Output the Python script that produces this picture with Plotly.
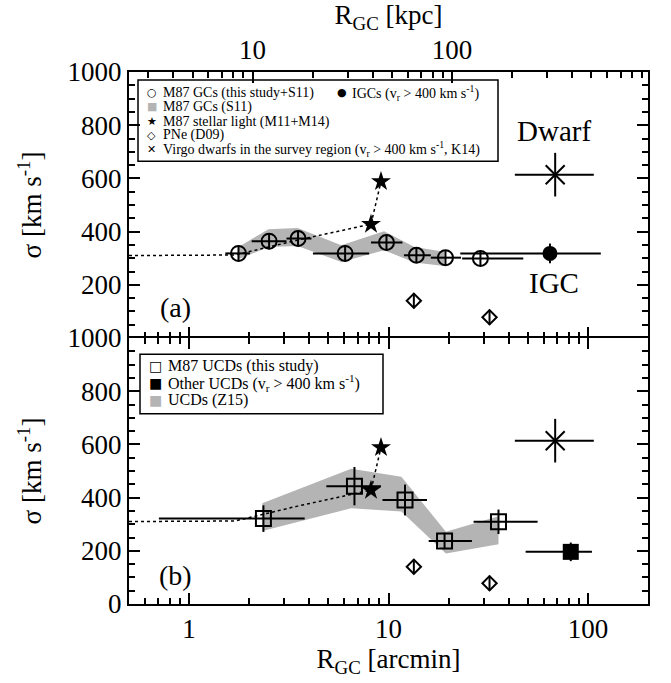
import numpy as np
import plotly.graph_objects as go

# ---------------- data ----------------
# M87 globular clusters (this study + S11), panel (a)
gc_r = [1.77, 2.52, 3.52, 6.06, 9.77, 13.8, 19.3, 28.9]
gc_sig = [318, 364, 374, 318, 359, 311, 302, 299]
gc_r_lo = [1.52, 2.06, 3.08, 4.18, 8.17, 11.95, 16.3, 23.4]
gc_r_hi = [2.02, 3.08, 4.11, 8.0, 11.74, 16.3, 23.1, 47.4]
gc_sig_err = [30, 30, 30, 30, 30, 28, 28, 28]

# M87 GCs (S11) band
s11_r = [1.77, 2.5, 3.5, 5.8, 9.5, 13.5, 19.0]
s11_lo = [296, 342, 346, 286, 330, 284, 271]
s11_hi = [342, 409, 414, 349, 401, 342, 324]

# intracluster GCs
igc_r = [64.5]
igc_sig = [318]
igc_r_lo = [22.9]
igc_r_hi = [116.0]
igc_sig_err = [37]

# M87 UCDs (this study), panel (b)
ucd_r = [2.36, 6.75, 12.1, 19.1, 35.6]
ucd_sig = [321, 443, 391, 237, 309]
ucd_r_lo = [0.706, 4.88, 9.33, 15.9, 26.7]
ucd_r_hi = [3.80, 9.17, 15.6, 26.2, 55.9]
ucd_sig_err = [50, 72, 58, 31, 46]

# other UCDs
oucd_r = [82.0]
oucd_sig = [196]
oucd_r_lo = [48.7]
oucd_r_hi = [104.7]
oucd_sig_err = [35]

# UCDs (Z15) band
z15_r = [2.33, 6.5, 11.6, 19.4, 35.6]
z15_lo = [274, 360, 348, 190, 225]
z15_hi = [379, 508, 478, 272, 330]

# M87 stellar light (M11 profile + M14 points)
prof_r = [0.5, 1.7, 3.5, 8.17, 9.17]
prof_sig = [310, 312, 368, 428, 588]
star_r = [8.17, 9.17]
star_sig = [428, 588]

# planetary nebulae (D09)
pne_r = [13.4, 32.1]
pne_sig = [140, 78]
pne_sig_err = [28, 28]

# Virgo dwarfs (K14)
dw_r = [68.5]
dw_sig = [614]
dw_r_lo = [43.0]
dw_r_hi = [107.0]
dw_sig_err = [82]

KPC_PER_ARCMIN = 4.8
X_RANGE = [0.5, 200]

# x tick values (arcmin and kpc)
x_major = [1, 10, 100]
x_minor = [0.6, 0.7, 0.8, 0.9, 2, 3, 4, 5, 6, 7, 8, 9,
           20, 30, 40, 50, 60, 70, 80, 90, 200]
kpc_major = [10, 100]
kpc_minor = [3, 4, 5, 6, 7, 8, 9, 20, 30, 40, 50, 60, 70, 80, 90,
             200, 300, 400, 500, 600, 700, 800, 900]
y_major_a = [200, 400, 600, 800, 1000]
y_major_b = [0, 200, 400, 600, 800, 1000]
y_minor = [v for v in range(50, 1000, 50) if v % 200 != 0]

# ---------------- figure ----------------
W, H = 671, 683
L, R, T, B = 129, 648, 67, 604
FONT = "Liberation Serif"
GRAY = "#b4b4b4"


def px(xp):
    return (xp - L) / (R - L)


def py(yp):
    return (B - yp) / (B - T)


def xerr(x, lo, hi):
    return dict(type="data", symmetric=False,
                array=[h - v for v, h in zip(x, hi)],
                arrayminus=[v - l for v, l in zip(x, lo)],
                color="black", thickness=2, width=0)


def yerr(e):
    return dict(type="data", array=e, color="black", thickness=2, width=0)


def band(r, lo, hi, xa, ya):
    return go.Scatter(x=list(r) + list(r)[::-1], y=list(hi) + list(lo)[::-1],
                      fill="toself", fillcolor=GRAY, mode="lines",
                      line=dict(width=0, color=GRAY), xaxis=xa, yaxis=ya,
                      hoverinfo="skip", showlegend=False)


fig = go.Figure()

# ---- panel (a): globular clusters ----
xa, ya = "x2", "y2"
fig.add_trace(band(s11_r, s11_lo, s11_hi, xa, ya))
fig.add_trace(go.Scatter(x=prof_r, y=prof_sig, mode="lines",
                         line=dict(color="black", width=1.5, dash="dot"),
                         xaxis=xa, yaxis=ya, showlegend=False))
fig.add_trace(go.Scatter(x=star_r, y=star_sig, mode="markers",
                         marker=dict(symbol="star", size=15, color="black"),
                         xaxis=xa, yaxis=ya, showlegend=False))
fig.add_trace(go.Scatter(x=gc_r, y=gc_sig, mode="markers",
                         error_x=xerr(gc_r, gc_r_lo, gc_r_hi),
                         error_y=yerr(gc_sig_err),
                         marker=dict(symbol="circle-open", size=15, color="black",
                                     line=dict(width=2)),
                         xaxis=xa, yaxis=ya, showlegend=False))
fig.add_trace(go.Scatter(x=igc_r, y=igc_sig, mode="markers",
                         error_x=xerr(igc_r, igc_r_lo, igc_r_hi),
                         error_y=yerr(igc_sig_err),
                         marker=dict(symbol="circle", size=15, color="black"),
                         xaxis=xa, yaxis=ya, showlegend=False))
fig.add_trace(go.Scatter(x=pne_r, y=pne_sig, mode="markers",
                         error_y=yerr(pne_sig_err),
                         marker=dict(symbol="diamond-open", size=11, color="black",
                                     line=dict(width=2)),
                         xaxis=xa, yaxis=ya, showlegend=False))
fig.add_trace(go.Scatter(x=dw_r, y=dw_sig, mode="markers",
                         error_x=xerr(dw_r, dw_r_lo, dw_r_hi),
                         error_y=yerr(dw_sig_err),
                         marker=dict(symbol="x-thin-open", size=19, color="black",
                                     line=dict(width=2)),
                         xaxis=xa, yaxis=ya, showlegend=False))
# top axis in kpc
fig.add_trace(go.Scatter(x=[], y=[], xaxis="x3", yaxis="y2", showlegend=False))

# ---- panel (b): UCDs ----
xb, yb = "x", "y"
fig.add_trace(band(z15_r, z15_lo, z15_hi, xb, yb))
fig.add_trace(go.Scatter(x=prof_r, y=prof_sig, mode="lines",
                         line=dict(color="black", width=1.5, dash="dot"),
                         xaxis=xb, yaxis=yb, showlegend=False))
fig.add_trace(go.Scatter(x=star_r, y=star_sig, mode="markers",
                         marker=dict(symbol="star", size=15, color="black"),
                         xaxis=xb, yaxis=yb, showlegend=False))
fig.add_trace(go.Scatter(x=ucd_r, y=ucd_sig, mode="markers",
                         error_x=xerr(ucd_r, ucd_r_lo, ucd_r_hi),
                         error_y=yerr(ucd_sig_err),
                         marker=dict(symbol="square-open", size=15, color="black",
                                     line=dict(width=2)),
                         xaxis=xb, yaxis=yb, showlegend=False))
fig.add_trace(go.Scatter(x=oucd_r, y=oucd_sig, mode="markers",
                         error_x=xerr(oucd_r, oucd_r_lo, oucd_r_hi),
                         error_y=yerr(oucd_sig_err),
                         marker=dict(symbol="square", size=16, color="black"),
                         xaxis=xb, yaxis=yb, showlegend=False))
fig.add_trace(go.Scatter(x=pne_r, y=pne_sig, mode="markers",
                         error_y=yerr(pne_sig_err),
                         marker=dict(symbol="diamond-open", size=11, color="black",
                                     line=dict(width=2)),
                         xaxis=xb, yaxis=yb, showlegend=False))
fig.add_trace(go.Scatter(x=dw_r, y=dw_sig, mode="markers",
                         error_x=xerr(dw_r, dw_r_lo, dw_r_hi),
                         error_y=yerr(dw_sig_err),
                         marker=dict(symbol="x-thin-open", size=19, color="black",
                                     line=dict(width=2)),
                         xaxis=xb, yaxis=yb, showlegend=False))

# ---------------- axes ----------------
tickfont = dict(family=FONT, size=27, color="black")
common_x = dict(type="log", range=[np.log10(X_RANGE[0]), np.log10(X_RANGE[1])],
                linecolor="black", linewidth=2,
                ticks="inside", ticklen=11, tickwidth=1.8, tickcolor="black",
                tickmode="array", tickvals=x_major,
                minor=dict(ticks="inside", ticklen=6, tickwidth=1.5,
                           tickcolor="black", tickvals=x_minor, showgrid=False),
                showgrid=False, zeroline=False, tickfont=tickfont)
common_y = dict(range=[0, 1000], showline=True, linecolor="black", linewidth=2,
                ticks="inside", ticklen=11, tickwidth=1.8, tickcolor="black",
                mirror="ticks", tickmode="array",
                minor=dict(ticks="inside", ticklen=6, tickwidth=1.5,
                           tickcolor="black", tickvals=y_minor, showgrid=False),
                showgrid=False, zeroline=False, tickfont=tickfont,
                title=dict(text="σ [km s<sup>-1</sup>]",
                           font=dict(family=FONT, size=27, color="black"),
                           standoff=18))

fig.update_layout(
    width=W, height=H,
    margin=dict(l=L, r=W - R, t=T, b=H - B),
    paper_bgcolor="white", plot_bgcolor="white",
    font=dict(family=FONT, color="black"),
    xaxis=dict(**common_x, showline=True, domain=[0, 1], anchor="y",
               mirror="ticks",
               title=dict(text="R<sub>GC</sub> [arcmin]",
                          font=dict(family=FONT, size=27, color="black"),
                          standoff=6)),
    yaxis=dict(**common_y, domain=[0, 0.5], anchor="x", tickvals=y_major_b),
    xaxis2=dict(**common_x, showline=False, domain=[0, 1], anchor="y2",
                matches="x", showticklabels=False),
    yaxis2=dict(**common_y, domain=[0.5, 1], anchor="x2", tickvals=y_major_a),
    xaxis3=dict(type="log",
                range=[np.log10(X_RANGE[0] * KPC_PER_ARCMIN),
                       np.log10(X_RANGE[1] * KPC_PER_ARCMIN)],
                overlaying="x2", anchor="y2", side="top",
                showline=True, linecolor="black", linewidth=2,
                ticks="inside", ticklen=11, tickwidth=1.8,
                tickcolor="black", tickmode="array", tickvals=kpc_major,
                minor=dict(ticks="inside", ticklen=6, tickwidth=1.5,
                           tickcolor="black", tickvals=kpc_minor, showgrid=False),
                showgrid=False, zeroline=False, tickfont=tickfont,
                title=dict(text="R<sub>GC</sub> [kpc]",
                           font=dict(family=FONT, size=27, color="black"),
                           standoff=4)),
)

# ---------------- legends (drawn as boxes with text) ----------------
shapes = []
annotations = []

# panel (a) legend
shapes.append(dict(type="rect", xref="paper", yref="paper",
                   x0=px(138), x1=px(498), y0=py(157), y1=py(75),
                   line=dict(color="black", width=1.5), fillcolor="white",
                   layer="below"))
leg_a = [
    ("○", "black", 151.5, 161, 88, "M87 GCs (this study+S11)"),
    ("●", "black", 341.5, 350, 88, "IGCs (v<sub>r</sub> > 400 km s<sup>-1</sup>)"),
    ("■", GRAY, 151.5, 161, 102, "M87 GCs (S11)"),
    ("★", "black", 151.5, 161, 117, "M87 stellar light (M11+M14)"),
    ("◇", "black", 151.5, 161, 131, "PNe (D09)"),
    ("✕", "black", 151.5, 161, 145, "Virgo dwarfs in the survey region "
                                     "(v<sub>r</sub> > 400 km s<sup>-1</sup>, K14)"),
]
for glyph, col, gx, tx, ty, label in leg_a:
    annotations.append(dict(xref="paper", yref="paper", x=px(gx), y=py(ty),
                            text=glyph, showarrow=False, xanchor="center",
                            yanchor="middle",
                            font=dict(family="DejaVu Sans", size=11, color=col)))
    annotations.append(dict(xref="paper", yref="paper", x=px(tx), y=py(ty),
                            text=label, showarrow=False, xanchor="left",
                            yanchor="middle",
                            font=dict(family=FONT, size=14, color="black")))

# panel (b) legend
shapes.append(dict(type="rect", xref="paper", yref="paper",
                   x0=px(140), x1=px(383), y0=py(412), y1=py(352),
                   line=dict(color="black", width=1.5), fillcolor="white",
                   layer="below"))
leg_b = [
    ("□", "black", 155, 166, 364, "M87 UCDs (this study)"),
    ("■", "black", 155, 166, 381, "Other UCDs (v<sub>r</sub> > 400 km s<sup>-1</sup>)"),
    ("■", GRAY, 155, 166, 398, "UCDs (Z15)"),
]
for glyph, col, gx, tx, ty, label in leg_b:
    annotations.append(dict(xref="paper", yref="paper", x=px(gx), y=py(ty),
                            text=glyph, showarrow=False, xanchor="center",
                            yanchor="middle",
                            font=dict(family="DejaVu Sans", size=14, color=col)))
    annotations.append(dict(xref="paper", yref="paper", x=px(tx), y=py(ty),
                            text=label, showarrow=False, xanchor="left",
                            yanchor="middle",
                            font=dict(family=FONT, size=16, color="black")))

# panel labels and group names
for txt, xp_, yp_ in [("(a)", 175, 305), ("(b)", 175, 575)]:
    annotations.append(dict(xref="paper", yref="paper", x=px(xp_), y=py(yp_),
                            text=txt, showarrow=False, xanchor="center",
                            yanchor="middle",
                            font=dict(family=FONT, size=28, color="black")))
for txt, xp_, yp_ in [("Dwarf", 554, 127), ("IGC", 554, 280)]:
    annotations.append(dict(xref="paper", yref="paper", x=px(xp_), y=py(yp_),
                            text=txt, showarrow=False, xanchor="center",
                            yanchor="middle",
                            font=dict(family=FONT, size=29, color="black")))

fig.update_layout(shapes=shapes, annotations=annotations)

fig.write_html("out.html")
